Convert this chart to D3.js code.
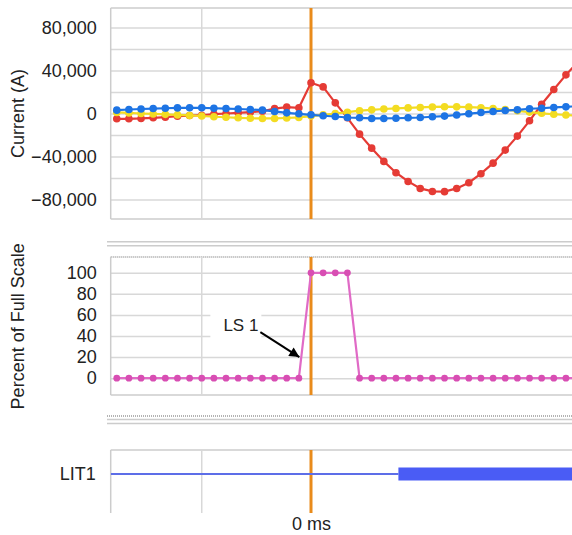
<!DOCTYPE html>
<html>
<head>
<meta charset="utf-8">
<script src="https://cdn.jsdelivr.net/npm/d3@7"></script>
<style>
  html, body { margin: 0; padding: 0; background: #fff; }
  svg { display: block; font-family: "Liberation Sans", Arial, sans-serif; }
</style>
</head>
<body>
<div id="chart"></div>
<script>
// sample times (ms), trigger at 0
const times = [-8, -7.5, -7, -6.5, -6, -5.5, -5, -4.5, -4, -3.5, -3, -2.5, -2, -1.5, -1, -0.5,
  0, 0.5, 1, 1.5, 2, 2.5, 3, 3.5, 4, 4.5, 5, 5.5, 6, 6.5, 7, 7.5, 8, 8.5, 9, 9.5, 10, 10.5, 11];

// currents (A)
const phaseRed = [-4900, -4900, -4600, -4000, -3400, -2500, -1900, -1600, -600, 0, 600, 1200, 2100, 4600, 6000, 5300,
  28500, 24700, 9900, -4000, -19200, -32200, -44500, -55000, -63100, -69600, -72400, -72600, -69600, -64300,
  -55900, -46100, -34000, -21000, -6800, 8600, 22300, 35900, 48000];
const phaseYellow = [1000, 500, 0, -400, -800, -1300, -1800, -2300, -3000, -3500, -4000, -4400, -4600, -4600, -4200, -3600,
  -2400, -1200, 0, 1200, 2600, 3400, 4200, 4700, 5200, 5600, 6100, 6300, 6200, 5900,
  5400, 4600, 3600, 2500, 1300, 200, -700, -1400, -2000];
const phaseBlue = [3100, 3700, 4200, 4600, 4900, 5200, 5300, 5300, 4900, 4600, 4200, 3700, 3100, 1900, 600, -300,
  -1200, -2100, -2800, -3700, -4000, -4600, -4600, -4400, -4000, -3700, -3000, -2400, -1400, -200,
  900, 1900, 2800, 3400, 4400, 4900, 5600, 6200, 6800];

// LS 1 analog (% of full scale)
const ls1 = [0, 0, 0, 0, 0, 0, 0, 0, 0, 0, 0, 0, 0, 0, 0, 0,
  100, 100, 100, 100, 0, 0, 0, 0, 0, 0, 0, 0, 0, 0,
  0, 0, 0, 0, 0, 0, 0, 0, 0];

// LIT1 digital: state changes
const lit1Times = [-8.25, 3.6, 11];
const lit1States = [0, 1];

const currentTicks = [-80000, -40000, 0, 40000, 80000];
const currentGrid = [-80000, -60000, -40000, -20000, 0, 20000, 40000, 60000, 80000];
const percentTicks = [0, 20, 40, 60, 80, 100];
const timeGrid = [-4.5];
const timeTicks = [0];
const triggerTime = 0;

const width = 572, height = 535;
const left = 110.7, right = 572;
const gridColor = '#d8d8d8', borderColor = '#cccccc', textColor = '#222';
const colors = { red: '#e53b35', yellow: '#f3dc22', blue: '#1d74e4', pink: '#e06ac6', pinkDot: '#d84eb3',
  trigger: '#e98b1b', lit: '#4a5cf5' };

const svg = d3.select('#chart').append('svg')
  .attr('width', width)
  .attr('height', height);

const defs = svg.append('defs');
defs.append('clipPath').attr('id', 'clip')
  .append('rect').attr('x', left).attr('y', 0).attr('width', right - left).attr('height', height);
defs.append('marker')
  .attr('id', 'arrow')
  .attr('viewBox', '0 0 10 10')
  .attr('refX', 10).attr('refY', 5)
  .attr('markerUnits', 'userSpaceOnUse')
  .attr('markerWidth', 13).attr('markerHeight', 10)
  .attr('orient', 'auto')
  .append('path').attr('d', 'M0,0L10,5L0,10z').attr('fill', '#000');

const x = d3.scaleLinear().domain([-8.25, 10.75]).range([left, right]);

// panel frames
const yTop = d3.scaleLinear().domain([-98000, 98000]).range([219, 8]);
const yMid = d3.scaleLinear().domain([-16, 115]).range([395, 257]);
const lit = d3.scaleBand().domain(['LIT1']).range([435, 513]);
const litTop = 450, litBottom = 513;

function hgrid(scale, values) {
  const g = svg.append('g').attr('transform', `translate(${left},0)`)
    .call(d3.axisLeft(scale).tickValues(values).tickSize(-(right - left)).tickFormat(''));
  g.select('.domain').remove();
  g.selectAll('line').attr('stroke', gridColor).attr('stroke-width', 1.5);
}

function labels(axis, size) {
  const g = svg.append('g').attr('transform', `translate(${left},0)`).call(axis);
  g.select('.domain').remove();
  g.selectAll('line').remove();
  g.selectAll('text').attr('fill', textColor).style('font-size', (size || 18) + 'px').attr('font-family', null);
  return g;
}

function vlines(y0, y1) {
  svg.append('g').selectAll('line').data(timeGrid).join('line')
    .attr('x1', d => x(d)).attr('x2', d => x(d))
    .attr('y1', y0).attr('y2', y1)
    .attr('stroke', gridColor).attr('stroke-width', 1.5);
  svg.append('line').attr('x1', left).attr('x2', left).attr('y1', y0).attr('y2', y1)
    .attr('stroke', borderColor).attr('stroke-width', 1.5);
}

function hline(y, dashed, x0) {
  svg.append('line').attr('x1', x0 || left).attr('x2', right).attr('y1', y).attr('y2', y)
    .attr('stroke', dashed ? '#9a9a9a' : borderColor)
    .attr('stroke-width', 1.5)
    .attr('stroke-dasharray', dashed ? '1,1' : null);
}

function trigger(y0, y1) {
  svg.append('line')
    .attr('x1', x(triggerTime)).attr('x2', x(triggerTime))
    .attr('y1', y0).attr('y2', y1)
    .attr('stroke', colors.trigger).attr('stroke-width', 3);
}

function series(scale, values, color, dotColor, r) {
  const pts = times.map((t, i) => [t, values[i]]);
  const g = svg.append('g').attr('clip-path', 'url(#clip)');
  g.append('path').datum(pts)
    .attr('fill', 'none').attr('stroke', color).attr('stroke-width', 2.2)
    .attr('d', d3.line().x(d => x(d[0])).y(d => scale(d[1])));
  g.selectAll('circle').data(pts).join('circle')
    .attr('cx', d => x(d[0])).attr('cy', d => scale(d[1])).attr('r', r)
    .attr('fill', dotColor);
}

// ---- top panel: currents
hgrid(yTop, currentGrid);
hline(yTop.range()[1]);
hline(yTop.range()[0]);
vlines(yTop.range()[1], yTop.range()[0]);
labels(d3.axisLeft(yTop).tickValues(currentTicks).tickSize(0).tickPadding(14).tickFormat(d3.format(',')));
trigger(yTop.range()[1], yTop.range()[0]);
series(yTop, phaseRed, colors.red, colors.red, 3.8);
series(yTop, phaseYellow, colors.yellow, colors.yellow, 3.8);
series(yTop, phaseBlue, colors.blue, colors.blue, 3.8);

svg.append('text')
  .attr('transform', `translate(24,${yTop(0)}) rotate(-90)`)
  .attr('text-anchor', 'middle')
  .attr('fill', textColor).style('font-size', '18px')
  .text('Current (A)');

// ---- separators
hline(241.7, false, 107);
hline(245.7, false, 107);

// ---- middle panel: LS 1 percent
hgrid(yMid, percentTicks);
hline(yMid.range()[1], true);
hline(yMid.range()[0]);
vlines(yMid.range()[1], yMid.range()[0]);
labels(d3.axisLeft(yMid).tickValues(percentTicks).tickSize(0).tickPadding(14));
trigger(yMid.range()[1], yMid.range()[0]);
series(yMid, ls1, colors.pink, colors.pinkDot, 3.4);

svg.append('text')
  .attr('transform', `translate(24,${(yMid.range()[0] + 241.7) / 2 + 8}) rotate(-90)`)
  .attr('text-anchor', 'middle')
  .attr('fill', textColor).style('font-size', '18px')
  .text('Percent of Full Scale');

// annotation
const tipX = x(-0.5) + 0.5, tipY = yMid(20);
const ann = svg.append('g');
ann.append('rect')
  .attr('x', tipX - 89).attr('y', tipY - 44).attr('width', 51).attr('height', 27)
  .attr('fill', '#fff');
ann.append('text')
  .attr('x', tipX - 41).attr('y', tipY - 26)
  .attr('text-anchor', 'end')
  .attr('fill', textColor).style('font-size', '17px')
  .text('LS 1');
ann.append('line')
  .attr('x1', tipX - 39).attr('y1', tipY - 25)
  .attr('x2', tipX).attr('y2', tipY)
  .attr('stroke', '#000').attr('stroke-width', 2)
  .attr('marker-end', 'url(#arrow)');

// ---- separators
hline(416, true, 107);
hline(419.5, false, 107);
hline(423.5, false, 107);

// ---- bottom panel: LIT1 digital
hline(litTop);
vlines(litTop, litBottom);
trigger(litTop, litBottom);

const litY = lit('LIT1') + lit.bandwidth() / 2;
const segs = lit1States.map((s, i) => ({ s, t0: lit1Times[i], t1: lit1Times[i + 1] }));
const lg = svg.append('g').attr('clip-path', 'url(#clip)');
lg.selectAll('line').data(segs.filter(d => d.s === 0)).join('line')
  .attr('x1', d => x(d.t0)).attr('x2', d => x(d.t1))
  .attr('y1', litY).attr('y2', litY)
  .attr('stroke', '#5d6ee8').attr('stroke-width', 2);
lg.selectAll('rect').data(segs.filter(d => d.s === 1)).join('rect')
  .attr('x', d => x(d.t0)).attr('width', d => x(d.t1) - x(d.t0))
  .attr('y', litY - 6.5).attr('height', 13)
  .attr('fill', colors.lit);

labels(d3.axisLeft(lit).tickSize(0).tickPadding(15), 18);

// time axis
const tx = svg.append('g').attr('transform', `translate(0,${litBottom})`)
  .call(d3.axisBottom(x).tickValues(timeTicks).tickSize(0).tickPadding(4).tickFormat(d => `${d} ms`));
tx.select('.domain').remove();
tx.selectAll('text').attr('fill', textColor).style('font-size', '18px').attr('font-family', null);
</script>
</body>
</html>
